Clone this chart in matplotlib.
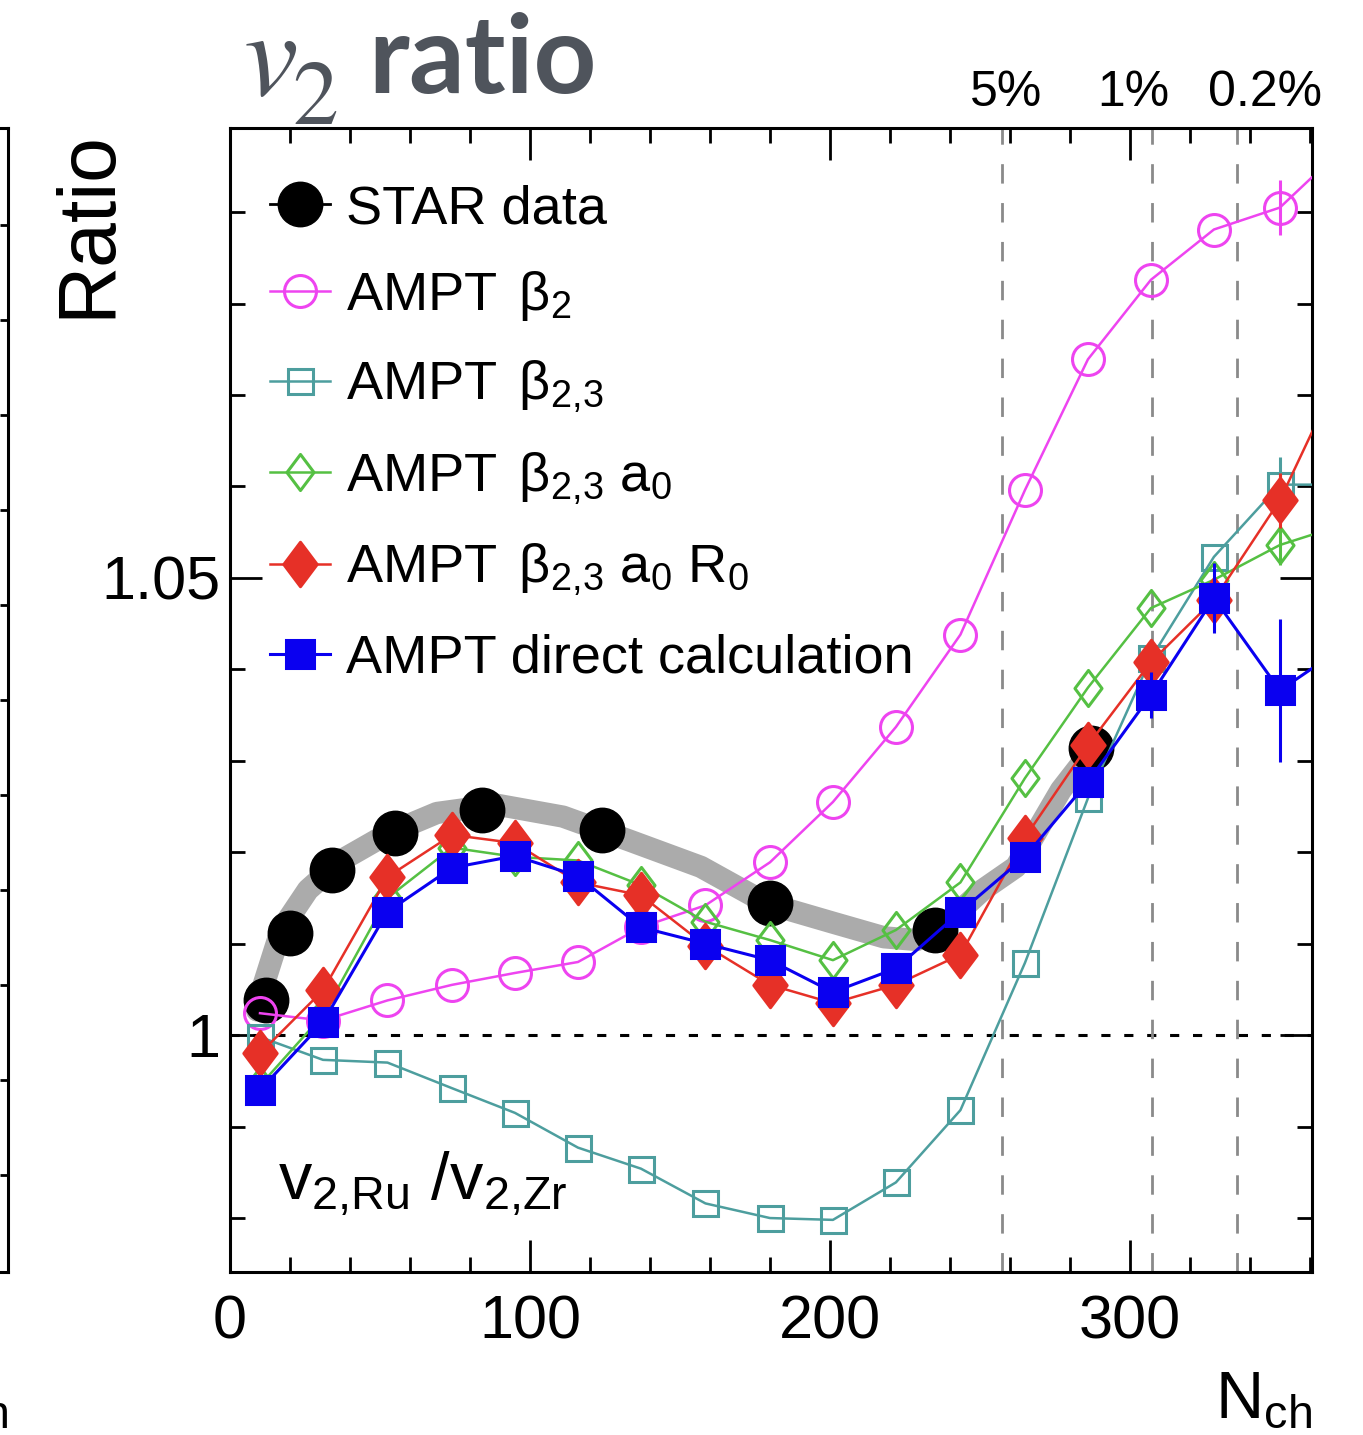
import numpy as np
import matplotlib.pyplot as plt
from matplotlib.path import Path
from matplotlib.lines import Line2D
from matplotlib.ticker import MultipleLocator, FuncFormatter

plt.rcParams['font.family'] = ['Liberation Sans', 'DejaVu Sans']
plt.rcParams['mathtext.fontset'] = 'custom'
plt.rcParams['mathtext.rm'] = 'Liberation Sans'
plt.rcParams['mathtext.it'] = 'Liberation Sans:italic'
plt.rcParams['mathtext.bf'] = 'Liberation Sans:bold'

# STAR data points
star_x = [12, 20, 34, 55, 84, 124, 180, 235, 287]
star_y = [1.0038, 1.0112, 1.0181, 1.0221, 1.0246, 1.0224, 1.0144, 1.0115, 1.0314]

# grey band drawn through the data
band_x = [9, 11, 17, 26, 37, 53, 69, 89, 111, 133, 157, 179, 201, 218, 229, 240, 251, 262, 277, 286]
band_y = [1.0027, 1.0053, 1.0115, 1.0159, 1.0191, 1.0221, 1.0243, 1.0252, 1.0239, 1.0213,
          1.0184, 1.0144, 1.0123, 1.0107, 1.0104, 1.0126, 1.0159, 1.0184, 1.0268, 1.0306]

# AMPT curves
ampt_x = [10, 31, 52.5, 74, 95, 116, 137, 158.5, 180, 201, 222, 243.5, 265, 286, 307, 328, 350, 371]
beta2 = [1.0024, 1.0016, 1.0038, 1.0055, 1.0068, 1.0080, 1.0118, 1.0142, 1.0189, 1.0255,
         1.0337, 1.0438, 1.0596, 1.0739, 1.0826, 1.0881, 1.0905, 1.0970]
beta23 = [0.9998, 0.9973, 0.9970, 0.9942, 0.9915, 0.9877, 0.9854, 0.9816, 0.9800, 0.9798,
          0.9839, 0.9918, 1.0079, 1.0259, 1.0412, 1.0523, 1.0602, 1.0602]
beta23_a0 = [0.9945, 1.0022, 1.0150, 1.0205, 1.0195, 1.0191, 1.0164, 1.0124, 1.0104, 1.0082,
             1.0115, 1.0167, 1.0281, 1.0380, 1.0467, 1.0498, 1.0536, 1.0558]
beta23_a0_r0 = [0.9980, 1.0049, 1.0173, 1.0219, 1.0210, 1.0167, 1.0153, 1.0098, 1.0055, 1.0035,
                1.0055, 1.0088, 1.0216, 1.0317, 1.0408, 1.0476, 1.0585, 1.0731]
direct = [0.9940, 1.0014, 1.0135, 1.0183, 1.0196, 1.0174, 1.0118, 1.0100, 1.0082, 1.0047,
          1.0073, 1.0135, 1.0195, 1.0277, 1.0372, 1.0478, 1.0377, 1.0424]

beta2_err = [0, 0, 0, 0, 0, 0, 0, 0, 0, 0, 0, 0, 0, 0, 0, 0, 0.003, 0.003]
beta23_err = [0, 0, 0, 0, 0, 0, 0, 0, 0, 0, 0, 0, 0, 0, 0, 0, 0.003, 0.003]
beta23_a0_err = [0, 0, 0, 0, 0, 0, 0, 0, 0, 0, 0, 0, 0, 0, 0, 0, 0.0022, 0.0022]
beta23_a0_r0_err = [0, 0, 0, 0, 0, 0, 0, 0, 0, 0, 0, 0, 0, 0, 0, 0.002, 0.003, 0.003]
direct_err = [0.0015, 0, 0, 0, 0, 0, 0, 0, 0, 0, 0, 0, 0, 0.001, 0.0025, 0.0038, 0.0078, 0.004]

# centrality marks
pct_lines = [257.3, 307.3, 335.7]
pct_text_x = [258.7, 301, 345]
pct_labels = ['5%', '1%', '0.2%']

diamond = Path([(0, 1), (0.75, 0), (0, -1), (-0.75, 0), (0, 1)],
               [Path.MOVETO, Path.LINETO, Path.LINETO, Path.LINETO, Path.CLOSEPOLY])

W, H = 1363, 1435
fig = plt.figure(figsize=(W / 100, H / 100), dpi=100)
left, right, top, bottom = 230 / W, 1312 / W, 1 - 128 / H, 1 - 1272 / H
ax = fig.add_axes([left, bottom, right - left, top - bottom])

# piece of the neighbouring panel at the left edge
ax0 = fig.add_axes([-0.5, bottom, 0.5 + 8 / W, top - bottom])
ax0.set_ylim(-1.02, 11.02)
ax0.set_yticks(range(11))
ax0.set_xticks([])
ax0.tick_params(axis='y', left=False, right=True, direction='in', length=6, width=2,
                labelleft=False, labelright=False)
for s in ax0.spines.values():
    s.set_linewidth(2.2)

ax.axhline(1, color='k', lw=2.2, ls=(0, (3, 4.5)), zorder=1)
for xv in pct_lines:
    ax.axvline(xv, color='#8a8a8a', lw=2, ls=(0, (7, 7)), zorder=1)
for xt, lab in zip(pct_text_x, pct_labels):
    ax.text(xt, 1.019, lab, transform=ax.get_xaxis_transform(), ha='center', va='baseline',
            fontsize=36)

ax.plot(band_x, band_y, color='#ababab', lw=16, solid_capstyle='round', zorder=2)
ax.plot(star_x, star_y, 'o', color='k', ms=32, zorder=3)

series = [
    (beta2, beta2_err, '#ee44f0', 'o', 23, False, 1.8),
    (beta23, beta23_err, '#4d9e9e', 's', 18, False, 1.8),
    (beta23_a0, beta23_a0_err, '#55c043', diamond, 26, False, 1.8),
    (beta23_a0_r0, beta23_a0_r0_err, '#e63027', diamond, 32, True, 1.8),
    (direct, direct_err, '#0a00f0', 's', 20, True, 2.2),
]
handles = [Line2D([], [], color='k', lw=2, marker='o', ms=32)]
z = 4
for yv, ev, col, mk, ms, filled, lw in series:
    ax.errorbar(ampt_x, yv, yerr=ev, fmt='none', ecolor=col, elinewidth=2.2, capsize=0, zorder=z)
    ln, = ax.plot(ampt_x, yv, color=col, lw=lw, marker=mk, ms=ms,
                  mfc=col if filled else 'none', mec=col, mew=2.2, zorder=z)
    handles.append(ln)
    z += 1

labels = ['STAR data',
          r'AMPT $\,\mathrm{β}_{2}$',
          r'AMPT $\,\mathrm{β}_{2{,}3}$',
          r'AMPT $\,\mathrm{β}_{2{,}3}$ a$_0$',
          r'AMPT $\,\mathrm{β}_{2{,}3}$ a$_0$ R$_0$',
          'AMPT direct calculation']
ax.legend(handles, labels, loc='upper left', bbox_to_anchor=(0.037, 0.951), frameon=False,
          fontsize=39, handlelength=1.1, handletextpad=0.3, labelspacing=0.65, borderpad=0,
          borderaxespad=0)

ax.text(0.044, 0.063, r'v$_{\mathrm{2{,}Ru}}$ /v$_{\mathrm{2{,}Zr}}$', transform=ax.transAxes,
        fontsize=48, va='baseline')

ax.set_xlim(0, 360.7)
ax.set_ylim(0.9741, 1.0992)
ax.xaxis.set_major_locator(MultipleLocator(100))
ax.xaxis.set_minor_locator(MultipleLocator(20))
ax.yaxis.set_major_locator(MultipleLocator(0.05))
ax.yaxis.set_minor_locator(MultipleLocator(0.01))
fmt = FuncFormatter(lambda v, p: f'{v:g}')
ax.xaxis.set_major_formatter(fmt)
ax.yaxis.set_major_formatter(fmt)
ax.tick_params(which='both', direction='in', top=True, right=True, width=2)
ax.tick_params(which='major', length=23, labelsize=44)
ax.tick_params(which='minor', length=11)
ax.tick_params(axis='x', pad=16)
ax.tick_params(axis='y', pad=7)
for s in ax.spines.values():
    s.set_linewidth(2.2)

fig.text(88 / W, 1 - 130 / H, 'Ratio', rotation=90, ha='center', va='top', fontsize=58)
fig.text(1312 / W, 1 - 1432 / H, r'N$_{\mathrm{ch}}$', ha='right', va='bottom', fontsize=48)
fig.text(8 / W, 1 - 1432 / H, r'N$_{\mathrm{ch}}$', ha='right', va='bottom', fontsize=48)

# title: italic v with subscript 2, then bold "ratio"
fig.text(243 / W, 1 - 95 / H, r'$v$', fontsize=88, math_fontfamily='stix', color='#4f545c',
         va='baseline')
fig.text(292 / W, 1 - 124 / H, '2', fontsize=66, family='STIXGeneral', color='#4f545c',
         va='baseline')
fig.text(368 / W, 1 - 93 / H, 'ratio', fontsize=79, fontweight='bold', family='Lato',
         color='#4f545c', va='baseline')

fig.savefig('out.png', dpi=100)
